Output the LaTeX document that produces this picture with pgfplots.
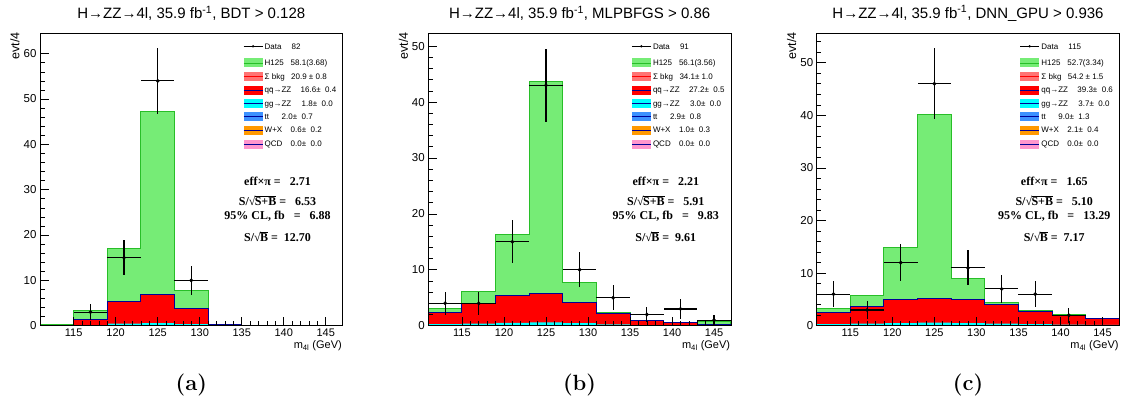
\documentclass[border=0pt]{standalone}
\usepackage{fontspec}
\usepackage{pgfplots}
\pgfplotsset{compat=1.18}
\newfontfamily\arial{Liberation Sans}
\newfontfamily\tnr{Liberation Serif}

\definecolor{hgreen}{RGB}{118,236,118}
\definecolor{hline}{RGB}{40,190,40}
\definecolor{navy}{RGB}{0,0,150}
\definecolor{rootred}{RGB}{255,0,0}
\definecolor{rootcyan}{RGB}{0,255,255}
\definecolor{bkgpink}{RGB}{255,115,115}
\definecolor{ttblue}{RGB}{60,145,255}
\definecolor{wxorange}{RGB}{255,153,0}
\definecolor{qcdpink}{RGB}{255,150,205}

\pgfplotsset{rootax/.style={
    scale only axis, width=302.6pt, height=292.4pt,
    anchor=south west, axis on top,
    xmin=111, xmax=147, ymin=0,
    xtick={115,120,...,145}, minor x tick num=4,
    ytick distance=10, minor y tick num=4,
    tick align=inside, xtick pos=bottom, ytick pos=left,
    major tick length=9pt, minor tick length=4.5pt,
    axis line style={line width=0.7pt},
    every tick/.style={black, line width=0.6pt},
    xticklabel style={font=\arial\fontsize{11}{11}\selectfont},
    yticklabel style={font=\arial\fontsize{11.5}{11.5}\selectfont},
    /pgf/number format/assume math mode=true,
  },
  hgr/.style={const plot, fill=hgreen, draw=hline, line width=1pt},
  qqz/.style={const plot, fill=rootred, draw=navy, line width=1pt},
  ggz/.style={const plot, fill=rootcyan, draw=none},
  dat/.style={black, only marks, mark=*, mark size=1.7pt,
    error bars/.cd, x dir=both, x explicit, y dir=both, y explicit,
    error mark=none, error bar style={line width=1.2pt, black}},
}

% legend row: y, fill, line colour, name, x of value, value
\newcommand\legbox[6]{%
  \fill[#2] (203.5pt,#1pt) ++(0,-4.5pt) rectangle ++(19pt,9pt);
  \draw[#3, line width=0.6pt] (203.5pt,#1pt) -- ++(19pt,0);
  \node[anchor=base west, inner sep=0, yshift=-2.9pt] at (224.5pt,#1pt) {#4};
  \node[anchor=base west, inner sep=0, yshift=-2.9pt] at (#5pt,#1pt) {#6};}

\newcommand\panellegend[9]{%
  \begin{scope}[xshift=#1pt, font=\arial\fontsize{8}{8}\selectfont]
    \draw[black, line width=0.8pt] (203.5pt,369.7pt) -- ++(19pt,0);
    \fill[black] (213pt,369.7pt) circle (1.3pt);
    \node[anchor=base west, inner sep=0, yshift=-2.9pt] at (224.5pt,369.7pt) {Data};
    \node[anchor=base west, inner sep=0, yshift=-2.9pt] at (251.5pt,369.7pt) {#2};
    \legbox{353}{hgreen}{hline}{H125}{250.5}{#3}
    \legbox{339.7}{bkgpink}{rootred}{Σ bkg}{251}{#4}
    \legbox{326}{rootred}{navy}{q\={q}→ZZ}{260.5}{#5}
    \legbox{312.7}{rootcyan}{navy}{gg→ZZ}{261.5}{#6}
    \legbox{299.3}{ttblue}{navy}{tt}{241.5}{#7}
    \legbox{286}{wxorange}{navy}{W+X}{250.5}{#8}
    \legbox{272}{qcdpink}{navy}{QCD}{250.5}{#9}
  \end{scope}}

% ROOT-like square root: glyph followed by an overline
\newcommand\rsqrt[1]{√\kern-0.6pt\vbox{\hrule height 0.6pt\kern0.8pt\hbox{#1}}}

\newcommand\paneltext[7]{%
  \begin{scope}[xshift=#1pt]
    \node[font=\arial\fontsize{15}{15}\selectfont] at (151.3pt,402.7pt) {#2};
    \node[font=\arial\fontsize{12.5}{12.5}\selectfont, rotate=90, anchor=east, inner sep=0] at (-25pt,384pt) {evt/4};
    \node[font=\arial\fontsize{11}{11}\selectfont, anchor=east, inner sep=0] at (302pt,70.3pt) {m\textsubscript{4l} (GeV)};
    \begin{scope}[font=\tnr\bfseries\fontsize{12}{12}\selectfont, every node/.style={inner sep=0}]
      \node at (237.5pt,234.3pt) {eff×π =\ \ \ #3};
      \node at (237.5pt,215.3pt) {S/\rsqrt{S+B} =\ \ \ #4};
      \node at (237.5pt,199.8pt) {95\% CL, fb\ \ \ =\ \ \ #5};
      \node at (237.5pt,179.3pt) {S/\rsqrt{B} =\ \ #6};
    \end{scope}
    \node[font=\bfseries\fontsize{22}{22}\selectfont] at (151.3pt,31pt) {(#7)};
  \end{scope}}

\begin{document}
\begin{tikzpicture}
\useasboundingbox (0,0) rectangle (1123pt,416pt);

% ---------------- (a) BDT
\begin{axis}[rootax, at={(40pt,90.3pt)}, ymax=64.5]
\addplot[hgr] coordinates {(111,0.3)(115,3.4)(119,17.0)(123,47.3)(127,7.8)(131,0.3)(135,0.05)(139,0.05)(143,0.05)(147,0.05)} \closedcycle;
\addplot[qqz] coordinates {(111,0.15)(115,1.4)(119,5.4)(123,6.9)(127,3.9)(131,0.25)(135,0.04)(139,0.03)(143,0.03)(147,0.03)} \closedcycle;
\addplot[ggz] coordinates {(111,0.05)(115,0.15)(119,0.45)(123,0.55)(127,0.35)(131,0.1)(135,0.02)(139,0.01)(143,0.01)(147,0.01)} \closedcycle;
\addplot[dat] coordinates {(117,3) +- (2,1.73) (121,15) +- (2,3.87) (125,54) +- (2,7.35) (129,10) +- (2,3.16)};
\end{axis}

% ---------------- (b) MLPBFGS
\begin{axis}[rootax, at={(428.3pt,90.3pt)}, ymax=52.3]
\addplot[hgr] coordinates {(111,3.1)(115,6.2)(119,16.3)(123,43.6)(127,7.8)(131,2.45)(135,1.0)(139,0.6)(143,0.7)(147,0.7)} \closedcycle;
\addplot[qqz] coordinates {(111,2.4)(115,3.9)(119,5.4)(123,5.7)(127,4.1)(131,2.2)(135,0.95)(139,0.55)(143,0.3)(147,0.3)} \closedcycle;
\addplot[ggz] coordinates {(111,0.3)(115,0.35)(119,0.5)(123,0.6)(127,0.45)(131,0.25)(135,0.12)(139,0.08)(143,0.05)(147,0.05)} \closedcycle;
\addplot[dat] coordinates {(113,4) +- (2,2) (117,4) +- (2,2) (121,15) +- (2,3.87) (125,43) +- (2,6.56) (129,10) +- (2,3.16) (133,5) +- (2,2.24) (137,2) +- (2,1.41) (141,3) +- (2,1.73) (145,1) +- (2,1)};
\end{axis}

% ---------------- (c) DNN_GPU
\begin{axis}[rootax, at={(816.7pt,90.3pt)}, ymax=55.6]
\addplot[hgr] coordinates {(111,3.3)(115,5.7)(119,14.8)(123,40.2)(127,8.9)(131,4.4)(135,2.9)(139,2.2)(143,1.4)(147,1.4)} \closedcycle;
\addplot[qqz] coordinates {(111,2.5)(115,3.6)(119,4.9)(123,5.2)(127,5.0)(131,4.1)(135,2.7)(139,2.0)(143,1.4)(147,1.4)} \closedcycle;
\addplot[ggz] coordinates {(111,0.3)(115,0.4)(119,0.5)(123,0.6)(127,0.5)(131,0.4)(135,0.3)(139,0.2)(143,0.15)(147,0.15)} \closedcycle;
\addplot[dat] coordinates {(113,6) +- (2,2.45) (117,3) +- (2,1.73) (121,12) +- (2,3.46) (125,46) +- (2,6.78) (129,11) +- (2,3.32) (133,7) +- (2,2.65) (137,6) +- (2,2.45) (141,2) +- (2,1.41)};
\end{axis}

\paneltext{40}{H→ZZ→4l, 35.9 fb\textsuperscript{-1}, BDT > 0.128}{2.71}{6.53}{6.88}{12.70}{a}
\paneltext{428.3}{H→ZZ→4l, 35.9 fb\textsuperscript{-1}, MLPBFGS > 0.86}{2.21}{5.91}{9.83}{9.61}{b}
\paneltext{816.7}{H→ZZ→4l, 35.9 fb\textsuperscript{-1}, DNN\_GPU > 0.936}{1.65}{5.10}{13.29}{7.17}{c}

\panellegend{40}{82}{58.1(3.68)}{20.9 ± 0.8}{16.6±\ \ 0.4}{1.8±\ \ 0.0}{2.0±\ \ 0.7}{0.6±\ \ 0.2}{0.0±\ \ 0.0}
\panellegend{428.3}{91}{56.1(3.56)}{34.1± 1.0}{27.2±\ \ 0.5}{3.0±\ \ 0.0}{2.9±\ \ 0.8}{1.0±\ \ 0.3}{0.0±\ \ 0.0}
\panellegend{816.7}{115}{52.7(3.34)}{54.2 ± 1.5}{39.3±\ \ 0.6}{3.7±\ \ 0.0}{9.0±\ \ 1.3}{2.1±\ \ 0.4}{0.0±\ \ 0.0}
\end{tikzpicture}
\end{document}
